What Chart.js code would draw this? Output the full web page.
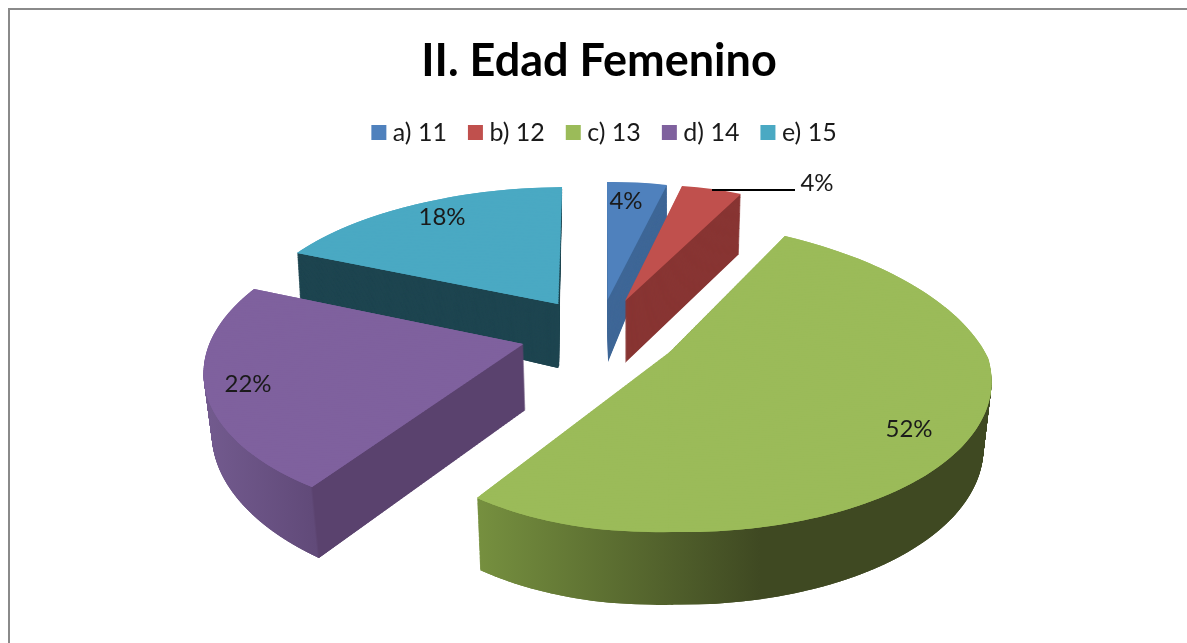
<!DOCTYPE html>
<html>
<head>
<meta charset="utf-8">
<style>
html,body{margin:0;padding:0;background:#fff;overflow:hidden;width:1187px;height:643px}
#frame{position:absolute;left:8px;top:8px;width:1200px;height:660px;border:2px solid #8a8a8a;box-sizing:border-box}
canvas{position:absolute;left:0;top:0}
</style>
<script src="https://cdn.jsdelivr.net/npm/chart.js@4"></script>
</head>
<body>
<div id="frame"></div>
<canvas id="c" width="1187" height="643"></canvas>
<script>
const categories = ['a) 11', 'b) 12', 'c) 13', 'd) 14', 'e) 15'];
const percentages = [4, 4, 52, 22, 18];
const topColors = ['#4f81bd', '#c0504d', '#9bbb59', '#7f619e', '#4aa9c3'];
const paintOrder = [4, 0, 1, 3, 2];

// View of each slice: how the flat pie is tilted on to the page (top and underside face).
const views = [
  { top: {x:607.5,y:300,a:[241,241],b:[-2.8,-2.8],c:[0.5,0.5],d:118,p:0},
    bottom: {x:608,y:362,a:[237,237],b:[-10,-10],c:[0,0],d:146,p:0},
    side: () => '#3f6797', label: [626,201] },
  { top: {x:625,y:301,a:[251,251],b:[-11.5,-11.5],c:[5.6,5.6],d:115.8,p:0},
    bottom: {x:625,y:363,a:[247,247],b:[-11.5,-11.5],c:[5.6,5.6],d:118,p:0},
    side: () => '#883533', label: [817,183] },
  { top: {x:670,y:352,a:[288.5,318],b:[-7.5,6],c:[26.5,0],d:153,p:0.15},
    bottom: {x:672,y:420,a:[287,308],b:[-8,4],c:[26,0],d:157,p:0.15},
    side: () => ({from:477,to:760,stops:[[0,'#76903f'],[1,'#3f4922']]}), label: [909,429] },
  { top: {x:523,y:344,a:[316,316],b:[-6.3,-6.3],c:[0.4,0.4],d:150.8,p:0.15},
    bottom: {x:525,y:410,a:[310,310],b:[1.2,1.2],c:[1.4,1.4],d:161.6,p:0.15},
    side: (t) => { const edge = 312 + 7*t; return {from:202,to:edge+0.5,stops:[[0,'#735b8f'],[0.98,'#614a79'],[1,'#5a426e']]}; }, label: [248,384] },
  { top: {x:558,y:304,a:[309,309],b:[-3.3,-3.3],c:[-4.6,-4.6],d:134.6,p:0.15},
    bottom: {x:558,y:368,a:[303,303],b:[10,10],c:[0,0],d:129,p:0.15},
    side: () => '#1e4550', label: [442,217] }
];

const leaderLine = {from:[712,190], to:[795,190]};
const FINE_ROWS = 160, COARSE_ROWS = 70;

function mix(m, n, t){
  const l = (u,v) => u + (v-u)*t;
  return {x:l(m.x,n.x),y:l(m.y,n.y),d:l(m.d,n.d),p:l(m.p,n.p),
    c:[l(m.c[0],n.c[0]),l(m.c[1],n.c[1])],
    a:[l(m.a[0],n.a[0]),l(m.a[1],n.a[1])], b:[l(m.b[0],n.b[0]),l(m.b[1],n.b[1])]};
}

function styleFor(ctx, spec){
  if (typeof spec === 'string') return spec;
  const T = ctx.getTransform(), s = T.a*T.a + T.c*T.c;
  const at = X => { const k = (X - T.e)/s; return [k*T.a, k*T.c]; };
  const p0 = at(spec.from), p1 = at(spec.to);
  const g = ctx.createLinearGradient(p0[0],p0[1],p1[0],p1[1]);
  spec.stops.forEach(q => g.addColorStop(q[0], q[1]));
  return g;
}

function drawFace(ctx, el, m, spec, fineRows){
  const R = el.outerRadius;
  const rows = m.p ? fineRows : 1;
  const sides = (m.a[0] !== m.a[1] || m.b[0] !== m.b[1]) ? 2 : 1;
  const mid = (el.startAngle + el.endAngle)/2;
  const onRight = Math.cos(mid) >= 0;
  const over = 1.2/fineRows;
  for (let r = 0; r < rows; r++){
    const y0 = -1 + 2*r/rows, y1 = -1 + 2*(r+1)/rows, ym = (y0+y1)/2, w = 1 - m.p*ym;
    const cc = rows === 1 ? m.c[0] : (ym < 0 ? m.c[0] : m.c[1]);
    for (let s = 0; s < sides; s++){
      const right = sides === 1 ? onRight : s === 1;
      const ia = right ? 1 : 0;
      const a = m.a[ia], b = m.b[ia];
      const fx = (x,y) => (a*x + cc*y)/(1 - m.p*y);
      const fy = (x,y) => (b*x + m.d*y)/(1 - m.p*y);
      const xr = (right ? 1 : -1) * Math.sqrt(Math.max(0, 1 - ym*ym));
      const A = a/w, B = b/w;
      const C = (fx(xr,y1)-fx(xr,y0))/(y1-y0);
      const D = (fy(xr,y1)-fy(xr,y0))/(y1-y0);
      const E = m.x + fx(xr,ym) - A*xr - C*ym;
      const F = m.y + fy(xr,ym) - B*xr - D*ym;
      ctx.save();
      ctx.transform(A/R, B/R, C/R, D/R, E, F);
      ctx.beginPath();
      const lx = sides === 1 ? -1.05 : (right ? -0.004 : -1.05);
      const hx = sides === 1 ? 1.05 : (right ? 1.05 : 0.004);
      ctx.rect(lx*R, (y0-over)*R, (hx-lx)*R, (y1-y0+2*over)*R);
      ctx.clip();
      ctx.translate(-el.x, -el.y);
      const ghost = Object.create(el);
      ghost.options = Object.assign({}, el.options, {backgroundColor: styleFor(ctx, spec)});
      ghost.draw(ctx);
      ctx.restore();
    }
  }
}

const tiltedPie = {
  id: 'tiltedPie',
  afterLayout(chart){
    chart.legend.left += 8;
    chart.legend.right += 8;
  },
  beforeDatasetDraw(){ return false; },
  afterDatasetsDraw(chart){
    const ctx = chart.ctx, arcs = chart.getDatasetMeta(0).data;
    paintOrder.forEach(i => {
      const v = views[i], el = arcs[i];
      const n = Math.ceil(Math.abs(v.bottom.y - v.top.y));
      for (let k = n; k >= 1; k--){
        const t = k/n;
        drawFace(ctx, el, mix(v.top, v.bottom, t), v.side(t), k === n ? FINE_ROWS : COARSE_ROWS);
      }
      drawFace(ctx, el, v.top, topColors[i], FINE_ROWS);
    });
    ctx.save();
    ctx.strokeStyle = '#000';
    ctx.lineWidth = 2;
    ctx.beginPath();
    ctx.moveTo(leaderLine.from[0], leaderLine.from[1]);
    ctx.lineTo(leaderLine.to[0], leaderLine.to[1]);
    ctx.stroke();
    ctx.fillStyle = '#1a1a1a';
    ctx.font = '24px Lato';
    ctx.textAlign = 'center';
    ctx.textBaseline = 'middle';
    percentages.forEach((p,i) => ctx.fillText(p + '%', views[i].label[0], views[i].label[1]));
    ctx.restore();
  }
};

new Chart(document.getElementById('c'), {
  type: 'pie',
  data: { labels: categories, datasets: [{ data: percentages, backgroundColor: topColors, borderWidth: 0 }] },
  options: {
    responsive: false,
    animation: false,
    layout: { padding: { left: 11, top: 0 } },
    plugins: {
      title: { display: true, text: 'II. Edad Femenino', color: '#000',
        font: { family: 'Lato', size: 45, weight: 'bold' }, padding: { top: 34, bottom: 5 } },
      legend: { position: 'top',
        labels: { usePointStyle: true, pointStyle: 'rect', boxWidth: 3, boxHeight: 15, padding: 27,
          color: '#1a1a1a', font: { family: 'Lato', size: 25 } } },
      tooltip: { enabled: false }
    }
  },
  plugins: [tiltedPie]
});
</script>
</body>
</html>
